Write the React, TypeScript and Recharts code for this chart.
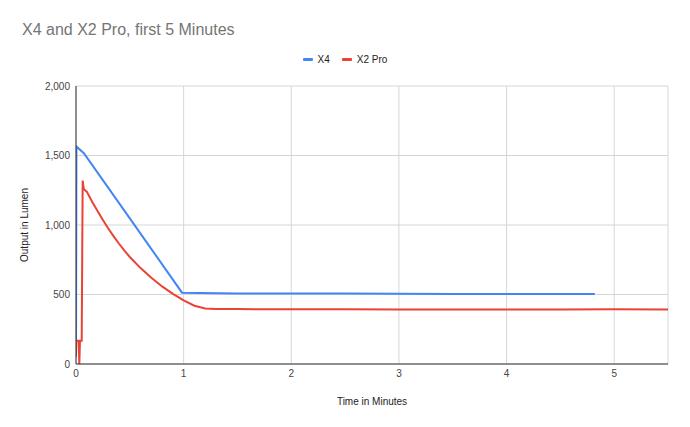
import { CartesianGrid, Label, Line, LineChart, XAxis, YAxis } from "recharts";

const minuteTicks = [0, 1, 2, 3, 4, 5];
const lumenTicks = [0, 500, 1000, 1500, 2000];

// X4 readings (minutes / lumen)
const x4Minutes = [0, 0.004, 0.073, 0.5, 0.985, 1.5, 2, 2.5, 3, 3.5, 4, 4.5, 4.82];
const x4Lumen = [50, 1565, 1516, 1048, 513, 508, 507, 507, 505, 504, 504, 504, 504];

// X2 Pro readings (minutes / lumen)
const x2ProMinutes = [
  0, 0.003, 0.025, 0.031, 0.037, 0.053, 0.062, 0.073, 0.1, 0.15, 0.2, 0.25, 0.3,
  0.35, 0.4, 0.45, 0.5, 0.6, 0.7, 0.8, 0.9, 1.0, 1.1, 1.2, 1.3, 1.5, 2, 2.5, 3,
  3.5, 4, 4.5, 5, 5.5,
];
const x2ProLumen = [
  60, 168, 168, 0, 168, 168, 1320, 1257, 1240, 1168, 1100, 1036, 975,
  918, 865, 816, 770, 690, 620, 558, 504, 457, 419, 400, 396, 395, 393, 393, 392,
  392, 392, 392, 393, 392,
];

const x4Data = x4Minutes.map((t, i) => ({ t, lumen: x4Lumen[i] }));
const x2ProData = x2ProMinutes.map((t, i) => ({ t, lumen: x2ProLumen[i] }));

const FONT = "'Liberation Sans', Arial, sans-serif";
const BLUE = "#4285f4";
const RED = "#ea4335";

export default function App() {
  return (
    <div style={{ position: "absolute", left: 0, top: 0, width: 690, height: 427, background: "#fff", fontFamily: FONT }}>
      <div style={{ position: "absolute", left: 22, top: 21, fontSize: 16, color: "#757575" }}>
        X4 and X2 Pro, first 5 Minutes
      </div>
      <div style={{ position: "absolute", left: 0, top: 54, width: 690, display: "flex", justifyContent: "center", fontSize: 10, color: "#222" }}>
        <span style={{ display: "flex", alignItems: "center", marginRight: 12 }}>
          <span style={{ width: 10, height: 3, background: BLUE, marginRight: 5, borderRadius: 1 }} />
          X4
        </span>
        <span style={{ display: "flex", alignItems: "center" }}>
          <span style={{ width: 10, height: 3, background: RED, marginRight: 5, borderRadius: 1 }} />
          X2 Pro
        </span>
      </div>
      <LineChart width={690} height={427} margin={{ top: 86, right: 22, bottom: 0, left: 0 }} style={{ position: "absolute", left: 0, top: 0 }}>
        <CartesianGrid stroke="#d6d6d6" />
        <XAxis
          type="number"
          dataKey="t"
          domain={[0, 5.5]}
          ticks={minuteTicks}
          allowDataOverflow
          height={63}
          tickSize={0}
          tickMargin={6}
          axisLine={{ stroke: "#333" }}
          tick={{ fontSize: 10, fill: "#444", fontFamily: FONT }}
        >
          <Label value="Time in Minutes" position="insideBottom" offset={22} style={{ fontSize: 10, fill: "#222", fontFamily: FONT }} />
        </XAxis>
        <YAxis
          type="number"
          domain={[0, 2000]}
          ticks={lumenTicks}
          width={76}
          tickSize={0}
          tickMargin={6}
          axisLine={{ stroke: "#333" }}
          tickFormatter={(v: number) => v.toLocaleString("en-US")}
          tick={{ fontSize: 10, fill: "#444", fontFamily: FONT }}
        >
          <Label value="Output in Lumen" angle={-90} position="insideLeft" offset={24} style={{ fontSize: 10, fill: "#222", fontFamily: FONT, textAnchor: "middle" }} />
        </YAxis>
        <Line data={x4Data} dataKey="lumen" stroke={BLUE} strokeWidth={2} dot={false} isAnimationActive={false} type="linear" />
        <Line data={x2ProData} dataKey="lumen" stroke={RED} strokeWidth={2} dot={false} isAnimationActive={false} type="linear" />
      </LineChart>
    </div>
  );
}
